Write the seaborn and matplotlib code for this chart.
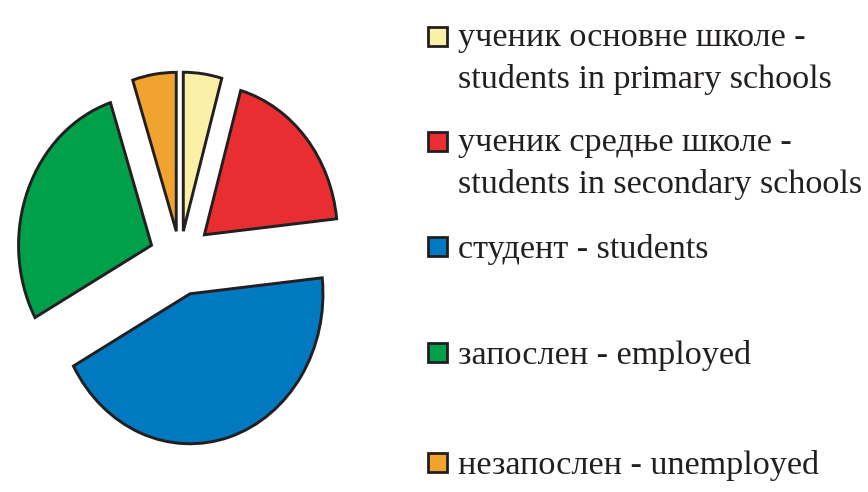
import matplotlib
matplotlib.use("Agg")
import matplotlib.pyplot as plt
from matplotlib.patches import Rectangle
import seaborn as sns

# data (shares in %)
shares = [4.4, 18.9, 43.7, 28.0, 5.0]
colors = ["#FAF0A8", "#E92E32", "#0079C1", "#00A04B", "#F0A42F"]
explode = [0.18, 0.24, 0.25, 0.23, 0.18]
labels_sr = ["ученик основне школе -", "ученик средње школе -",
             "студент - students", "запослен - employed",
             "незапослен - unemployed"]
labels_en = ["students in primary schools", "students in secondary schools",
             None, None, None]

sns.set_theme(style="white")
plt.rcParams["font.family"] = ["Liberation Serif", "DejaVu Serif"]

W, H = 868, 492
fig = plt.figure(figsize=(W / 100, H / 100), dpi=100)

# pie is slightly taller than wide in the original
ax = fig.add_axes([7.1 / W, 1 - 453 / H, 345.8 / W, 390 / H])
wedges, _ = ax.pie(shares, colors=colors, explode=explode, startangle=90,
                   counterclock=False,
                   wedgeprops=dict(edgecolor="#231F20", linewidth=2.1))
# the two thin slices stick out a little further
for i in (0, 4):
    wedges[i].set_radius(1.06)
ax.set_aspect("auto")
ax.set_xlim(-1.3, 1.3)
ax.set_ylim(-1.3, 1.3)
ax.axis("off")

# legend built by hand
sq_y = [36, 141, 246, 352, 462]
base_y = [46, 151, 258, 364, 474]
sq = 19
for i, (c, t1, t2) in enumerate(zip(colors, labels_sr, labels_en)):
    fig.patches.append(Rectangle((428 / W, 1 - (sq_y[i] + sq / 2) / H),
                                 sq / W, sq / H, transform=fig.transFigure,
                                 facecolor=c, edgecolor="#231F20",
                                 linewidth=2.0))
    fig.text(458 / W, 1 - base_y[i] / H, t1, fontsize=24.6, va="baseline",
             ha="left", color="#231F20")
    if t2:
        fig.text(458 / W, 1 - (base_y[i] + 42) / H, t2, fontsize=24.6,
                 va="baseline", ha="left", color="#231F20")

fig.savefig("out.png", dpi=100)
